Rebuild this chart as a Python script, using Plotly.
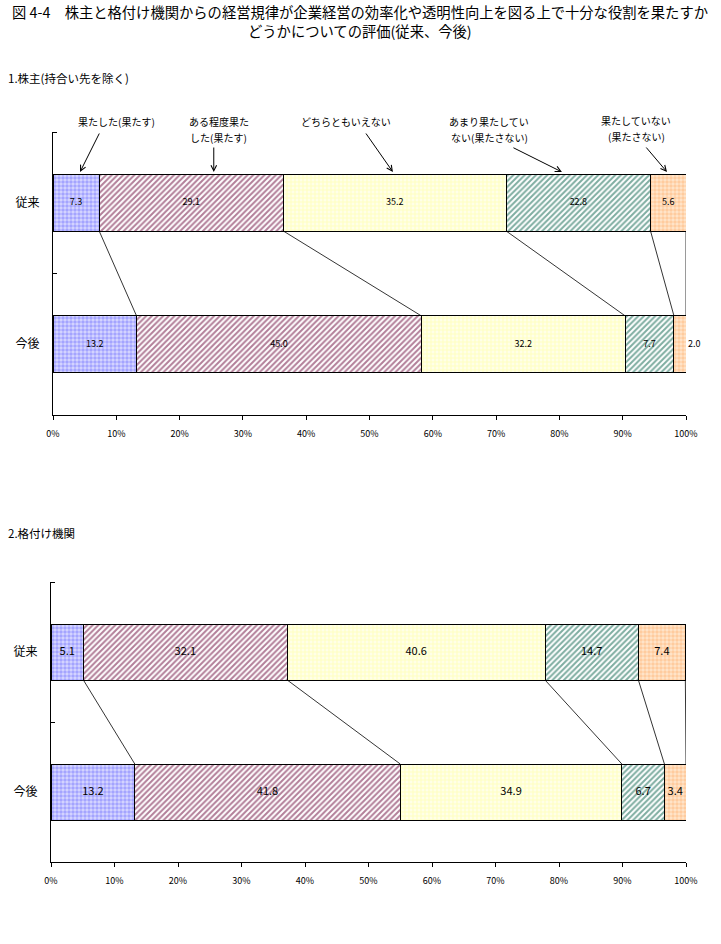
import plotly.graph_objects as go

# ---------------- data ----------------
categories = ["従来", "今後"]
series_names = [
    "果たした(果たす)",
    "ある程度果たした(果たす)",
    "どちらともいえない",
    "あまり果たしていない(果たさない)",
    "果たしていない(果たさない)",
]
shareholder_past = [7.3, 29.1, 35.2, 22.8, 5.6]
shareholder_future = [13.2, 45.0, 32.2, 7.7, 2.0]
rating_past = [5.1, 32.1, 40.6, 14.7, 7.4]
rating_future = [13.2, 41.8, 34.9, 6.7, 3.4]
x_tick_values = [0, 10, 20, 30, 40, 50, 60, 70, 80, 90, 100]
x_tick_labels = ["0%", "10%", "20%", "30%", "40%", "50%", "60%", "70%", "80%", "90%", "100%"]
callout_lines = [
    ["果たした(果たす)"],
    ["ある程度果た", "した(果たす)"],
    ["どちらともいえない"],
    ["あまり果たしてい", "ない(果たさない)"],
    ["果たしていない", "(果たさない)"],
]

# ---------------- styles ----------------
FONT = "Noto Sans CJK JP"
patterns = [
    dict(shape=".", fgcolor="#7070ff", bgcolor="#d8d8ff", size=4, solidity=0.6, fillmode="overlay"),
    dict(shape="/", fgcolor="#660033", bgcolor="#ffffff", size=4, solidity=0.5, fillmode="overlay"),
    dict(shape="+", fgcolor="#ffff99", bgcolor="#ffffe8", size=4, solidity=0.45, fillmode="overlay"),
    dict(shape="/", fgcolor="#005c44", bgcolor="#ffffff", size=4, solidity=0.5, fillmode="overlay"),
    dict(shape=".", fgcolor="#ffb070", bgcolor="#ffe6cc", size=4, solidity=0.6, fillmode="overlay"),
]
BAR_W = 0.4
W, H = 721, 944


def px_x(p):
    return p / W


def px_y(p):
    return 1 - p / H


fig = go.Figure()


def add_panel(past, future, xa, ya, text_size):
    for i, name in enumerate(series_names):
        fig.add_trace(go.Bar(
            name=name,
            y=[0, 1],
            x=[past[i], future[i]],
            orientation="h",
            width=BAR_W,
            xaxis=xa, yaxis=ya,
            marker=dict(color="white", pattern=patterns[i],
                        line=dict(color="black", width=1)),
            hoverinfo="skip",
            showlegend=False,
        ))
    # series connector lines between cumulative boundaries
    xs, ys = [], []
    cp, cf = 0.0, 0.0
    for i in range(len(series_names)):
        cp += past[i]
        cf += future[i]
        xs += [min(cp, 100), min(cf, 100), None]
        ys += [BAR_W / 2, 1 - BAR_W / 2, None]
    fig.add_trace(go.Scatter(x=xs, y=ys, mode="lines", xaxis=xa, yaxis=ya,
                             line=dict(color="black", width=0.8),
                             hoverinfo="skip", showlegend=False, cliponaxis=False))
    # data labels
    for row, vals in enumerate([past, future]):
        cum = 0.0
        lx, ly, lt, lp = [], [], [], []
        for v in vals:
            start = cum
            cum += v
            if v < 2.5:
                lx.append(min(cum, 100))
                lp.append("middle right")
                lt.append(f" {v:.1f}")
            else:
                lx.append((start + min(cum, 100)) / 2)
                lp.append("middle center")
                lt.append(f"{v:.1f}")
            ly.append(row)
        fig.add_trace(go.Scatter(x=lx, y=ly, text=lt, mode="text", textposition=lp,
                                 xaxis=xa, yaxis=ya, cliponaxis=False,
                                 textfont=dict(family=FONT, size=text_size, color="black"),
                                 hoverinfo="skip", showlegend=False))


add_panel(shareholder_past, shareholder_future, "x", "y", 9)
add_panel(rating_past, rating_future, "x2", "y2", 11)

common_x = dict(range=[0, 100], tickvals=x_tick_values, ticktext=x_tick_labels,
                ticks="outside", ticklen=4, tickcolor="black", showline=True,
                linecolor="black", linewidth=1, showgrid=False, zeroline=False,
                tickfont=dict(family=FONT, size=9, color="black"),
                ticklabelstandoff=6, fixedrange=True, automargin=False)
common_y = dict(range=[1.5, -0.5], tickvals=[0, 1], ticktext=categories, ticks="",
                showline=True, linecolor="black", linewidth=1, showgrid=False,
                zeroline=False, tickfont=dict(family=FONT, size=12, color="black"),
                ticklabelstandoff=10, automargin=False,
                minor=dict(tickvals=[-0.5, 0.5], ticks="inside", ticklen=4,
                           tickcolor="black", showgrid=False),
                fixedrange=True)

fig.update_layout(
    template="none",
    width=W, height=H, autosize=False,
    margin=dict(l=0, r=0, t=0, b=0, pad=0),
    paper_bgcolor="white", plot_bgcolor="white",
    barmode="stack", bargap=0,
    showlegend=False,
    font=dict(family=FONT, color="black"),
    xaxis=dict(domain=[px_x(53), px_x(686)], anchor="y", **common_x),
    yaxis=dict(domain=[px_y(415), px_y(132)], anchor="x", **common_y),
    xaxis2=dict(domain=[px_x(51), px_x(686)], anchor="y2", **common_x),
    yaxis2=dict(domain=[px_y(862), px_y(582)], anchor="x2", **common_y),
)

# titles
fig.add_annotation(text="図 4-4　株主と格付け機関からの経営規律が企業経営の効率化や透明性向上を図る上で十分な役割を果たすか",
                   xref="paper", yref="paper", x=px_x(360), y=px_y(12), showarrow=False,
                   font=dict(family=FONT, size=14.3), xanchor="center", yanchor="middle")
fig.add_annotation(text="どうかについての評価(従来、今後)",
                   xref="paper", yref="paper", x=px_x(360), y=px_y(31), showarrow=False,
                   font=dict(family=FONT, size=14.3), xanchor="center", yanchor="middle")
fig.add_annotation(text="1.株主(持合い先を除く)", xref="paper", yref="paper",
                   x=px_x(6), y=px_y(78), showarrow=False, xanchor="left", yanchor="middle",
                   font=dict(family=FONT, size=11.5))
fig.add_annotation(text="2.格付け機関", xref="paper", yref="paper",
                   x=px_x(6), y=px_y(533), showarrow=False, xanchor="left", yanchor="middle",
                   font=dict(family=FONT, size=11.5))

# callouts (top panel): text lines and arrows
text_centers = [(116, [122]), (219, [122, 138]), (346, [122]), (489, [122, 138]), (636, [120, 136])]
for lines, (cx, ys_) in zip(callout_lines, text_centers):
    for ln, yy in zip(lines, ys_):
        fig.add_annotation(text=ln, xref="paper", yref="paper", x=px_x(cx), y=px_y(yy),
                           showarrow=False, xanchor="center", yanchor="middle",
                           font=dict(family=FONT, size=10))

tip_x = [4.27, 25.4, 53.7, 80.4, 97.0]
tail_offsets = [(20, -40), (0, -26), (-28, -40), (-50, -25), (-22, -26)]
tip_y = -0.5 + 40 / 141.5
for tx, (ox, oy) in zip(tip_x, tail_offsets):
    fig.add_annotation(text="", x=tx, y=tip_y, xref="x", yref="y",
                       ax=ox, ay=oy, axref="pixel", ayref="pixel",
                       showarrow=True, arrowhead=5, arrowsize=1.1, arrowwidth=1,
                       arrowcolor="black")

fig.write_html("out.html",
               config={"displayModeBar": False, "staticPlot": True},
               post_script="document.body.style.margin='0';document.body.style.overflow='hidden';")
